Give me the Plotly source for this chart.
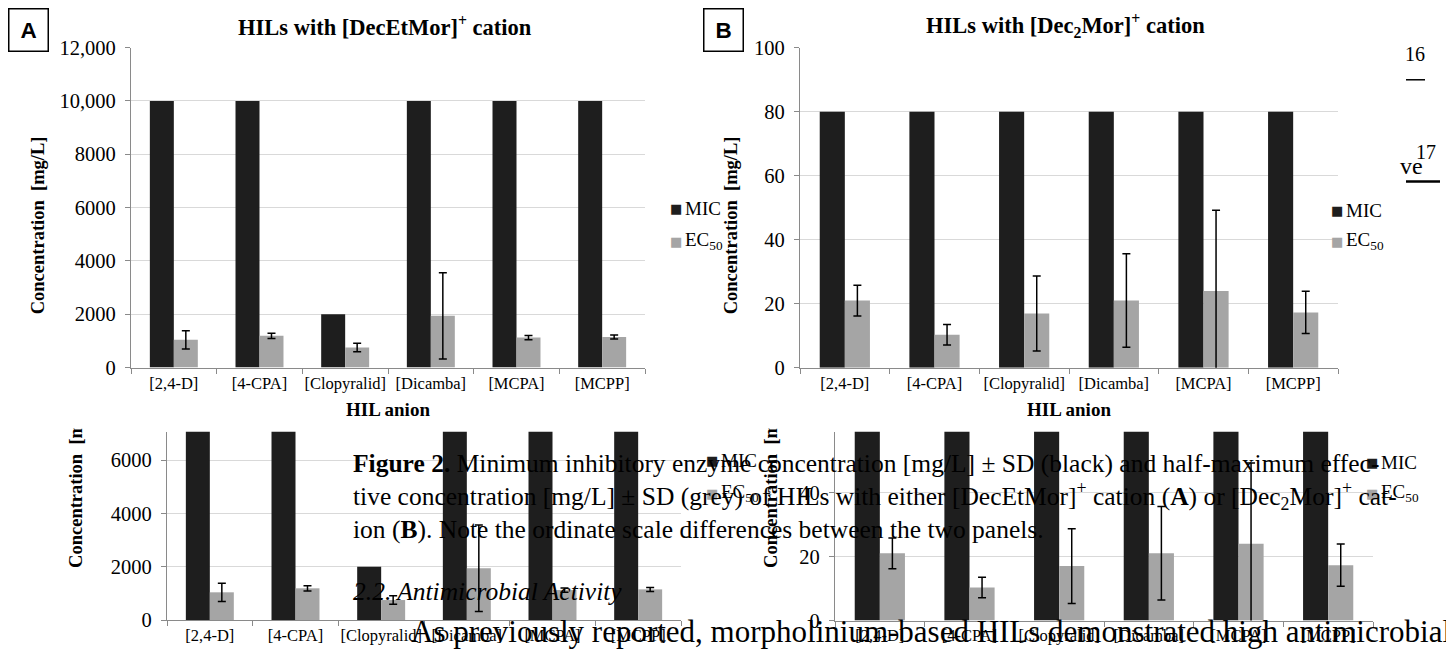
import plotly.graph_objects as go

# The page is photographed with an 8px left offset, ~18.6px top offset and a
# vertical factor of about 0.969; the figure is sized and placed to suit.
OX, OY, SY = 8, 18.6, 0.969
FW, FH = 1438, 645

categories = ["[2,4-D]", "[4-CPA]", "[Clopyralid]", "[Dicamba]", "[MCPA]", "[MCPP]"]
mic_A = [10000, 10000, 2000, 10000, 10000, 10000]
ec50_A = [1040, 1190, 750, 1940, 1125, 1150]
ec50_A_sd = [340, 100, 160, 1620, 80, 75]
mic_B = [80, 80, 80, 80, 80, 80]
ec50_B = [21.0, 10.3, 17.0, 21.0, 24.0, 17.3]
ec50_B_sd = [4.8, 3.2, 11.7, 14.6, 25.2, 6.6]

yticks_A = [0, 2000, 4000, 6000, 8000, 10000, 12000]
yticklabels_A = ["0", "2000", "4000", "6000", "8000", "10,000", "12,000"]
yticks_B = [0, 20, 40, 60, 80, 100]
yticklabels_B = ["0", "20", "40", "60", "80", "100"]

BLACK = "#1e1e1e"
GREY = "#a5a5a5"
AXIS = "#8a8a8a"
GRID = "#d9d9d9"
SERIF = "Liberation Serif"


def fx(px):
    return (px - OX) / FW


def fy(py):
    return 1 - (py / SY - OY) / FH


def vh(h):
    # vertical size in figure px for a wanted picture height
    return h / SY


fig = go.Figure()

panels = [
    ("", mic_A, ec50_A, ec50_A_sd),
    ("2", mic_B, ec50_B, ec50_B_sd),
    ("3", mic_A, ec50_A, ec50_A_sd),
    ("4", mic_B, ec50_B, ec50_B_sd),
]
for suf, mic, ec, sd in panels:
    fig.add_trace(go.Bar(x=categories, y=mic, name="MIC", marker_color=BLACK,
                         marker_line_width=0, xaxis="x" + suf, yaxis="y" + suf,
                         showlegend=False))
    fig.add_trace(go.Bar(x=categories, y=ec, name="EC50", marker_color=GREY,
                         marker_line_width=0, xaxis="x" + suf, yaxis="y" + suf,
                         error_y=dict(type="data", array=sd, color="black",
                                      thickness=1.5, width=4),
                         showlegend=False))

xbase = dict(type="category", showline=True, linecolor=AXIS, linewidth=1.3,
             ticks="outside", tickson="boundaries", ticklen=5, tickcolor=AXIS,
             showgrid=False, tickangle=0,
             tickfont=dict(family=SERIF, size=16.5, color="black"))
ybase = dict(showline=True, linecolor=AXIS, linewidth=1.3, ticks="outside",
             ticklen=5, tickcolor=AXIS, showgrid=True, gridcolor=GRID,
             gridwidth=1.3, zeroline=False, ticklabelstandoff=5,
             tickfont=dict(family=SERIF, size=20.5, color="black"))

layout = dict(
    width=FW, height=FH, margin=dict(l=0, r=0, t=0, b=0),
    paper_bgcolor="white", plot_bgcolor="white",
    barmode="group", bargap=0.44, bargroupgap=0, showlegend=False,
    xaxis=dict(xbase, domain=[fx(131), fx(645)], anchor="y"),
    yaxis=dict(ybase, domain=[fy(367.7), fy(46.7)], range=[0, 12000],
               tickvals=yticks_A, ticktext=yticklabels_A, anchor="x"),
    xaxis2=dict(xbase, domain=[fx(800), fx(1338)], anchor="y2"),
    yaxis2=dict(ybase, domain=[fy(368), fy(46.7)], range=[0, 100],
                tickvals=yticks_B, ticktext=yticklabels_B, anchor="x2"),
    xaxis3=dict(xbase, domain=[fx(167), fx(681)], anchor="y3"),
    yaxis3=dict(ybase, domain=[fy(621), fy(432)], range=[0, 7065],
                tickvals=yticks_A, ticktext=yticklabels_A, anchor="x3"),
    xaxis4=dict(xbase, domain=[fx(835), fx(1373)], anchor="y4"),
    yaxis4=dict(ybase, domain=[fy(621.5), fy(432)], range=[0, 59],
                tickvals=yticks_B, ticktext=yticklabels_B, anchor="x4"),
)
fig.update_layout(**layout)

ann = []


def text(px, py, s, size, xa="center", ya="middle", angle=0, family=SERIF,
         color="black", **kw):
    ann.append(dict(x=fx(px), y=fy(py), xref="paper", yref="paper", text=s,
                    showarrow=False, xanchor=xa, yanchor=ya, textangle=angle,
                    font=dict(family=family, size=size, color=color), **kw))


text(28, 29, "<b>A</b>", 22.5, family="Liberation Sans", bordercolor="black",
     borderwidth=1.5, borderpad=0, width=38, height=vh(40), bgcolor="white")
text(723, 29, "<b>B</b>", 22.5, family="Liberation Sans", bordercolor="black",
     borderwidth=1.5, borderpad=0, width=38, height=vh(40), bgcolor="white")

text(385, 25, "<b>HILs with [DecEtMor]<sup>+</sup> cation</b>", 22.5)
text(1065, 25, "<b>HILs with [Dec<sub>2</sub>Mor]<sup>+</sup> cation</b>", 22.5)

text(38, 225, "<b>Concentration  [mg/L]</b>", 18.5, angle=-90)
text(731, 225, "<b>Concentration  [mg/L]</b>", 18.5, angle=-90)
text(388, 410, "<b>HIL anion</b>", 19)
text(1069, 410, "<b>HIL anion</b>", 19)
# lower, cropped copies of the y titles (clipped to the visible part)
text(76, 499.5, "<b>Concentration  [mg/L]</b>", 18.5, angle=-90,
     width=vh(135), align="left")
text(771, 499.5, "<b>Concentration  [mg/L]</b>", 18.5, angle=-90,
     width=vh(135), align="left")

for sqx, ty1, ty2 in [(676, 208, 241), (1337, 210, 241), (712, 461, 494), (1372, 463, 494)]:
    text(sqx, ty1, "■", 13, family="DejaVu Sans", color=BLACK)
    text(sqx + 7, ty1, "MIC", 19, xa="left")
    text(sqx, ty2, "■", 13, family="DejaVu Sans", color=GREY)
    text(sqx + 7, ty2, "EC<sub>50</sub>", 19, xa="left")

cap = 25.5
text(351, 464, "<b>Figure 2.</b> Minimum inhibitory enzyme concentration [mg/L] ± SD (black) and half-maximum effec-", cap, xa="left")
text(351, 497, "tive concentration [mg/L] ± SD (grey) of HILs with either [DecEtMor]<sup>+</sup> cation (<b>A</b>) or [Dec<sub>2</sub>Mor]<sup>+</sup> cat-", cap, xa="left")
text(351, 530, "ion (<b>B</b>). Note the ordinate scale differences between the two panels.", cap, xa="left")
text(351, 592, "<i>2.2. Antimicrobial Activity</i>", cap, xa="left")
text(409, 632, "As previously reported, morpholinium-based HILs demonstrated high antimicrobial", 31, xa="left")

text(1415, 53, "16", 20)
text(1425, 165, "ve", 24, xa="right")
text(1426, 151, "17", 20)

fig.update_layout(annotations=ann, shapes=[
    dict(type="line", xref="paper", yref="paper", x0=fx(1406), x1=fx(1425),
         y0=fy(79), y1=fy(79), line=dict(color="black", width=1.5)),
    dict(type="line", xref="paper", yref="paper", x0=fx(1406), x1=fx(1440),
         y0=fy(181), y1=fy(181), line=dict(color="black", width=2.5)),
])

fig.write_html("out.html")
